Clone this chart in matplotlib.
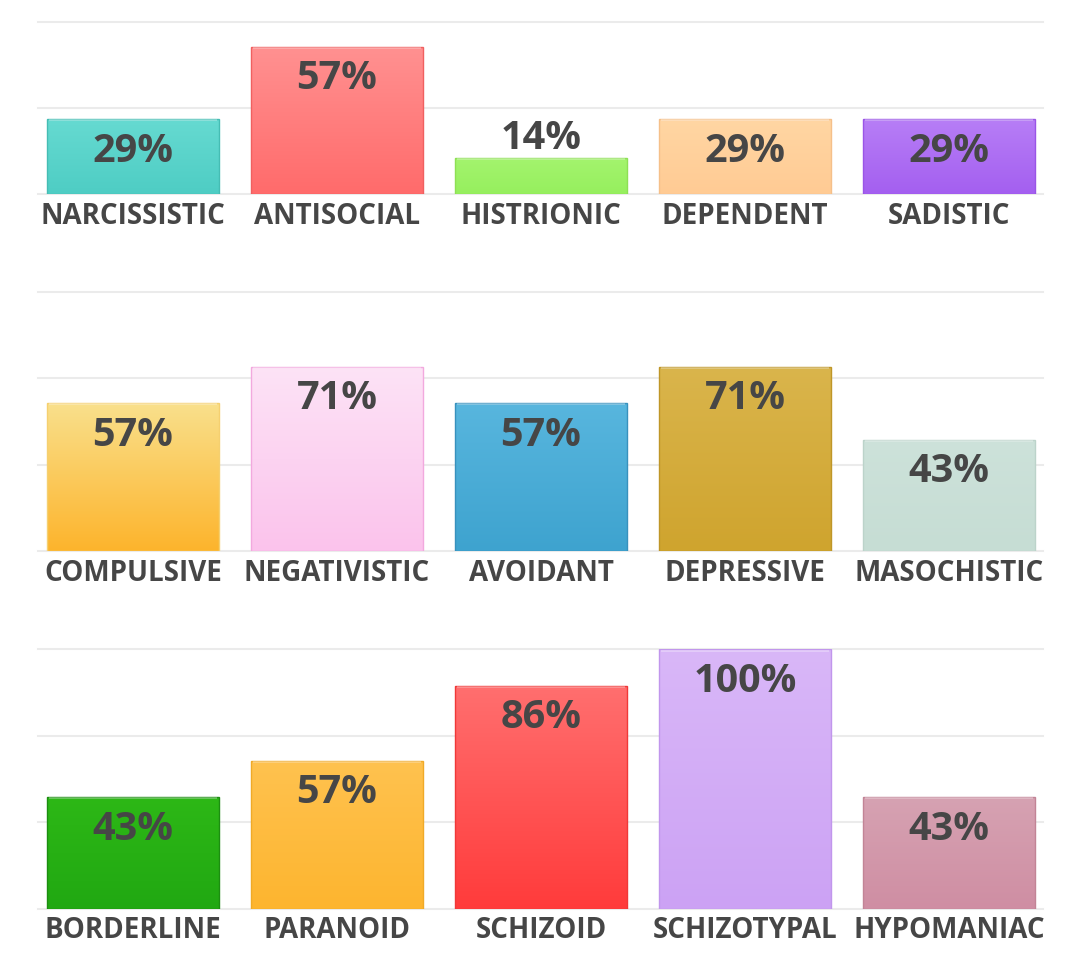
import numpy as np
import matplotlib.pyplot as plt
from matplotlib.colors import LinearSegmentedColormap

# ---- data (percent of scales elevated) ----
row1_names = ["NARCISSISTIC", "ANTISOCIAL", "HISTRIONIC", "DEPENDENT", "SADISTIC"]
row1_values = [29, 57, 14, 29, 29]

row2_names = ["COMPULSIVE", "NEGATIVISTIC", "AVOIDANT", "DEPRESSIVE", "MASOCHISTIC"]
row2_values = [57, 71, 57, 71, 43]

row3_names = ["BORDERLINE", "PARANOID", "SCHIZOID", "SCHIZOTYPAL", "HYPOMANIAC"]
row3_values = [43, 57, 86, 100, 43]

# (top colour, bottom colour, edge colour) for every bar
row1_colors = [("#66dad1", "#4ecdc4", "#45bdb4"),
               ("#ff9191", "#ff6b6b", "#f06060"),
               ("#a4f46e", "#96ef5e", "#8ee055"),
               ("#ffd6a3", "#ffcb94", "#f5c08a"),
               ("#b77ef6", "#a45ff0", "#9a55e6")]
row2_colors = [("#f9e08c", "#fdb42c", "#f5d070"),
               ("#fde3f6", "#fbc3ec", "#f2a9de"),
               ("#58b6de", "#3ea3cf", "#3891bd"),
               ("#dab54c", "#cfa42e", "#bf9628"),
               ("#cde2da", "#c6ddd4", "#bcd3ca")]
row3_colors = [("#2db816", "#21a812", "#1c8e10"),
               ("#ffc24f", "#fdb52f", "#f0aa28"),
               ("#ff6f6f", "#ff3b3b", "#f03838"),
               ("#d9b7f8", "#cca2f4", "#c196ec"),
               ("#d6a2b2", "#cf8ea3", "#c28496")]

rows = [(row1_names, row1_values, row1_colors, 100 * 2 / 3),
        (row2_names, row2_values, row2_colors, 100),
        (row3_names, row3_values, row3_colors, 100)]

plt.rcParams['font.family'] = ['Open Sans', 'DejaVu Sans']
text_col = "#464646"

fig = plt.figure(figsize=(10.8, 9.68), dpi=100)
W, H = 1080, 968
left, right = 38.3, 1043
# (top, baseline) of each row in pixels
row_px = [(21.7, 194), (291.7, 551), (649.3, 908.7)]

for (names, values, colors, ymax), (ptop, pbase) in zip(rows, row_px):
    ax = fig.add_axes([left / W, 1 - pbase / H, (right - left) / W, (pbase - ptop) / H])
    x = np.arange(len(names))
    bars = ax.bar(x, values, width=0.843, color="none", zorder=3)

    for b, (ctop, cbot, cedge) in zip(bars, colors):
        x0, y0 = b.get_xy()
        w, h = b.get_width(), b.get_height()
        cmap = LinearSegmentedColormap.from_list("g", [cbot, ctop])
        grad = np.linspace(0, 1, 256).reshape(-1, 1)
        im = ax.imshow(grad, cmap=cmap, extent=[x0, x0 + w, y0, y0 + h],
                       origin="lower", aspect="auto", zorder=2)
        im.set_clip_path(b)
        b.set_edgecolor(cedge)
        b.set_linewidth(1.0)
        # thin highlight under the top edge
        ax.plot([x0 + 0.01, x0 + w - 0.01], [y0 + h - 0.5, y0 + h - 0.5],
                color="white", alpha=0.35, lw=1.2, zorder=4, solid_capstyle="butt")

    for xi, v in zip(x, values):
        if v >= 20:
            ax.annotate(f"{v}%", (xi, v), xytext=(0, -9), textcoords="offset points",
                        ha="center", va="top", fontsize=28.5, fontweight="bold",
                        color=text_col, zorder=5)
        else:
            ax.annotate(f"{v}%", (xi, v), xytext=(0, 6), textcoords="offset points",
                        ha="center", va="baseline", fontsize=28.5, fontweight="bold",
                        color=text_col, zorder=5)

    for g in np.arange(0, ymax + 1, 100 / 3):
        ax.axhline(g, color="#ebebeb", lw=1.5, zorder=0, clip_on=False)

    ax.set_xlim(-0.464, 4.461)
    ax.set_ylim(0, ymax)
    ax.set_yticks([])
    ax.set_xticks(x)
    ax.set_xticklabels(names, fontsize=20, fontweight="bold", color=text_col)
    ax.tick_params(axis="x", length=0, pad=5.5)
    for s in ax.spines.values():
        s.set_visible(False)

fig.savefig("out.png", dpi=100, facecolor="white")
